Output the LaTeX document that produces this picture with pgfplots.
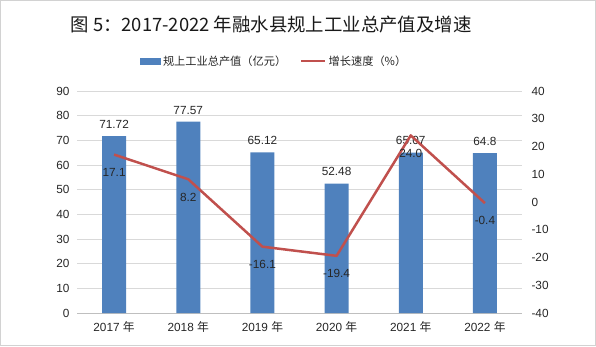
\documentclass[border=0pt]{standalone}
\usepackage{fontspec}
\setmainfont{Liberation Sans}
\newfontfamily\cjk{Noto Sans CJK SC}
\usepackage{pgfplots}
\usepackage{pgfplotstable}
\pgfplotsset{compat=1.18}
\definecolor{barblue}{RGB}{79,129,189}
\definecolor{linered}{RGB}{192,80,77}
\definecolor{gridgray}{RGB}{217,217,217}
\definecolor{axisgray}{RGB}{191,191,191}

\pgfplotstableread{
x val label
0 71.72 71.72
1 77.57 77.57
2 65.12 65.12
3 52.48 52.48
4 65.07 65.07
5 64.8 64.8
}\bardata
\pgfplotstableread{
x val label
0 17.1 17.1
1 8.2 8.2
2 -16.1 -16.1
3 -19.4 -19.4
4 24.0 24.0
5 -0.4 -0.4
}\linedata

\begin{document}
\begin{tikzpicture}[x=1pt,y=1pt]
\draw[gray!35, line width=1pt] (0.5,0.5) rectangle (595.5,345.5);
\node[font=\cjk\fontsize{18.4}{22}\selectfont, anchor=center, text=black!90] at (271,321) {图 5：2017-2022 年融水县规上工业总产值及增速};
\begin{axis}[
  at={(77pt,33pt)}, anchor=south west, scale only axis,
  width=445pt, height=222pt,
  clip=false,
  xmin=-0.5, xmax=5.5, ymin=0, ymax=90,
  ytick={0,10,...,90},
  xtick={0,...,5},
  xticklabels={2017 {\cjk 年},2018 {\cjk 年},2019 {\cjk 年},2020 {\cjk 年},2021 {\cjk 年},2022 {\cjk 年}},
  extra x ticks={-0.5,0.5,1.5,2.5,3.5,4.5,5.5},
  extra x tick labels={},
  extra x tick style={major tick length=4pt, tick align=outside, tick style={draw=axisgray}},
  axis x line*=bottom, axis y line*=left,
  x axis line style={draw=axisgray, -},
  y axis line style={draw=none},
  xtick style={draw=none},
  ytick style={draw=none},
  ymajorgrids, grid style={draw=gridgray, line width=0.8pt},
  /pgf/number format/assume math mode=true,
  tick label style={font=\fontsize{11.8}{13}\selectfont, text=black!85},
  yticklabel style={xshift=-4pt},
  xticklabel style={yshift=-5pt},
  legend style={draw=none, at={(0.443,1.135)}, anchor=center, legend columns=2,
    font=\cjk\fontsize{11.2}{13}\selectfont, text=black!85,
    /tikz/every even column/.append style={column sep=12pt}},
]
\addplot[ybar, bar width=24pt, fill=barblue, draw=none,
  nodes near coords, point meta=explicit symbolic,
  every node near coord/.append style={font=\fontsize{11.8}{13}\selectfont, text=black!85, anchor=south, yshift=4pt},
  legend image code/.code={\fill[barblue] (0pt,-3.5pt) rectangle (21pt,3.5pt);}]
  table[x=x, y=val, meta=label] {\bardata};
\addlegendentry{规上工业总产值（亿元）}
\addlegendimage{legend image code/.code={\draw[linered, line width=2.5pt] (0pt,0pt) -- (24pt,0pt);}}
\addlegendentry{增长速度（\%）}
\end{axis}
\begin{axis}[
  at={(77pt,33pt)}, anchor=south west, scale only axis,
  width=445pt, height=222pt,
  clip=false,
  xmin=-0.5, xmax=5.5, ymin=-40, ymax=40,
  ytick={-40,-30,...,40},
  axis y line*=right, axis x line=none,
  y axis line style={draw=none},
  ytick style={draw=none},
  /pgf/number format/assume math mode=true,
  tick label style={font=\fontsize{11.8}{13}\selectfont, text=black!85},
  yticklabel style={xshift=6pt},
]
\addplot[linered, line width=2.5pt, line join=round, mark=none,
  nodes near coords, point meta=explicit symbolic,
  every node near coord/.append style={font=\fontsize{11.8}{13}\selectfont, text=black!85, anchor=north, yshift=-9pt}]
  table[x=x, y=val, meta=label] {\linedata};
\end{axis}
\end{tikzpicture}
\end{document}
